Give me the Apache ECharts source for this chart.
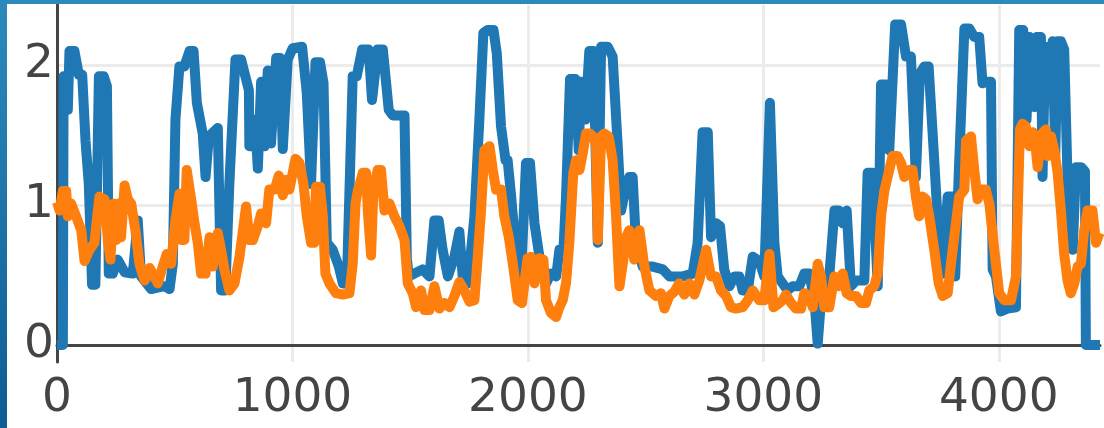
<!DOCTYPE html>
<html><head><meta charset="utf-8">
<script src="https://cdn.jsdelivr.net/npm/echarts@6/dist/echarts.min.js"></script>
<style>
html,body{margin:0;padding:0;width:1104px;height:428px;overflow:hidden;background:linear-gradient(to bottom,#2c8aba,#0d5c94);}
#c{position:absolute;left:7px;top:4px;width:1097px;height:424px;background:#fff;}
</style></head><body><div id="c"></div>
<script>
const xTicks = [0, 1000, 2000, 3000, 4000];
const yTicks = [0, 1, 2];

const blueX = [0,25,28,46,53,74,93,107,121,135,149,163,178,198,212,220,237,258,287,322,343,357,400,456,478,492,503,520,541,563,580,594,619,631,645,683,697,715,732,758,782,815,817,834,841,853,867,881,895,909,931,948,959,980,1001,1041,1061,1079,1098,1117,1132,1146,1171,1197,1214,1231,1256,1273,1296,1324,1338,1362,1384,1409,1426,1476,1486,1494,1518,1553,1582,1603,1621,1638,1660,1688,1709,1723,1745,1773,1794,1811,1829,1854,1868,1886,1905,1914,1929,1950,1971,1992,2009,2028,2049,2077,2098,2120,2134,2151,2162,2179,2202,2216,2226,2244,2261,2278,2297,2311,2339,2360,2381,2396,2414,2431,2445,2459,2488,2530,2573,2601,2658,2700,2721,2742,2764,2778,2799,2816,2834,2856,2877,2898,2912,2934,2955,2983,3004,3028,3047,3061,3082,3103,3125,3153,3174,3195,3217,3231,3245,3259,3280,3302,3320,3337,3354,3372,3394,3429,3443,3464,3486,3500,3521,3535,3560,3585,3606,3627,3648,3665,3684,3702,3726,3747,3762,3783,3804,3815,3829,3854,3875,3896,3917,3931,3948,3967,3974,3988,4009,4037,4073,4087,4104,4118,4130,4151,4161,4179,4186,4197,4214,4229,4240,4250,4264,4278,4292,4314,4328,4350,4366,4370,4430];
const blueY = [0,0,1.92,1.68,2.10,2.10,1.93,1.93,1.46,1.15,0.43,0.43,1.92,1.92,1.85,0.51,0.51,0.61,0.52,0.51,0.89,0.49,0.40,0.42,0.40,0.58,1.61,1.99,1.99,2.10,2.10,1.73,1.51,1.20,1.49,1.55,0.39,0.39,1.15,2.04,2.04,1.82,1.42,1.42,1.61,1.26,1.88,1.42,1.96,1.44,2.05,2.05,1.40,2.04,2.12,2.13,1.80,1.15,2.02,2.02,1.87,0.73,0.68,0.56,0.44,0.44,1.92,1.92,2.11,2.11,1.75,2.11,2.11,1.68,1.64,1.64,0.62,0.49,0.51,0.54,0.49,0.89,0.89,0.68,0.49,0.63,0.81,0.49,0.44,0.92,1.61,2.23,2.25,2.25,2.08,1.56,1.32,1.32,1.06,0.65,0.49,1.30,1.30,0.87,0.63,0.44,0.51,0.49,0.68,0.68,1.06,1.90,1.90,1.39,1.88,1.61,2.10,2.10,0.73,2.13,2.13,2.06,1.44,0.96,1.11,1.20,1.20,0.73,0.56,0.56,0.54,0.49,0.49,0.51,0.73,1.52,1.52,0.77,0.87,0.85,0.54,0.42,0.49,0.49,0.39,0.39,0.63,0.60,0.49,1.73,0.73,0.49,0.44,0.39,0.42,0.42,0.51,0.51,0.32,0.01,0.32,0.46,0.49,0.96,0.96,0.87,0.96,0.42,0.46,0.46,1.23,1.23,0.42,1.86,1.86,1.39,2.29,2.29,2.06,2.06,1.20,1.94,1.99,1.99,1.32,0.70,0.51,1.06,1.06,0.49,1.18,2.26,2.26,2.20,2.20,1.87,1.88,1.88,0.54,0.49,0.24,0.26,0.27,2.25,2.25,1.61,2.20,1.70,2.20,2.20,1.20,2.13,1.77,2.17,1.35,2.17,2.17,2.11,1.20,0.68,1.27,1.27,1.24,0,0];

const orangeX = [0,11,25,39,46,60,81,103,117,138,159,180,202,216,227,240,251,262,272,287,301,315,333,350,372,393,414,428,449,466,485,503,520,527,541,551,570,584,598,612,631,648,662,683,697,711,732,754,775,803,817,832,853,867,888,902,924,942,959,973,987,1013,1030,1047,1061,1079,1093,1100,1117,1129,1140,1157,1185,1214,1242,1256,1268,1277,1299,1313,1320,1334,1344,1362,1376,1391,1412,1433,1454,1476,1490,1511,1525,1546,1561,1582,1603,1624,1645,1667,1688,1709,1730,1752,1773,1787,1801,1815,1837,1851,1865,1886,1900,1919,1936,1957,1975,1985,1999,2013,2028,2049,2066,2077,2098,2120,2134,2148,2162,2176,2193,2205,2219,2233,2247,2264,2275,2289,2297,2311,2325,2343,2360,2374,2389,2403,2417,2431,2452,2474,2495,2516,2544,2565,2580,2601,2622,2643,2664,2686,2707,2728,2757,2778,2799,2820,2842,2863,2884,2912,2934,2955,2983,3004,3026,3043,3061,3082,3096,3118,3139,3160,3174,3195,3210,3231,3245,3259,3280,3302,3320,3337,3354,3372,3394,3415,3436,3450,3471,3486,3500,3514,3532,3549,3570,3585,3599,3617,3634,3648,3662,3677,3691,3705,3726,3745,3762,3783,3797,3818,3832,3854,3861,3882,3896,3910,3924,3945,3960,3981,4002,4023,4052,4073,4090,4101,4115,4130,4144,4158,4165,4183,4200,4207,4222,4236,4250,4264,4278,4292,4306,4321,4335,4349,4363,4377,4398,4413,4428];
const orangeY = [1.02,0.96,1.10,1.10,0.92,1.01,0.92,0.82,0.60,0.68,0.73,1.06,1.04,0.75,0.61,1.01,0.75,1.01,0.77,1.14,1.04,1.01,0.82,0.58,0.46,0.55,0.49,0.44,0.56,0.65,0.58,0.89,1.08,0.75,0.75,1.25,1.04,0.87,0.73,0.51,0.51,0.77,0.56,0.80,0.68,0.54,0.39,0.44,0.63,0.99,0.75,0.75,0.85,0.94,0.87,1.11,1.11,1.21,1.07,1.18,1.11,1.33,1.30,1.15,0.92,0.73,0.73,1.13,1.13,0.92,0.51,0.44,0.37,0.36,0.37,0.58,1.01,1.10,1.23,1.23,0.96,0.64,1.11,1.25,1.25,0.96,1.01,0.92,0.85,0.75,0.44,0.37,0.27,0.39,0.25,0.25,0.42,0.26,0.30,0.27,0.35,0.45,0.39,0.31,0.32,0.63,0.96,1.39,1.42,1.25,1.11,1.11,0.92,0.77,0.58,0.32,0.30,0.44,0.62,0.63,0.44,0.62,0.61,0.32,0.23,0.20,0.27,0.32,0.44,0.73,1.23,1.32,1.25,1.37,1.51,1.51,1.49,1.44,0.75,1.49,1.51,1.49,1.32,0.94,0.42,0.58,0.77,0.82,0.61,0.82,0.56,0.39,0.35,0.37,0.26,0.35,0.38,0.44,0.36,0.44,0.36,0.46,0.68,0.49,0.49,0.39,0.35,0.27,0.26,0.27,0.32,0.39,0.32,0.32,0.65,0.27,0.29,0.32,0.36,0.30,0.26,0.26,0.37,0.35,0.27,0.58,0.49,0.27,0.27,0.49,0.42,0.51,0.37,0.35,0.35,0.30,0.30,0.39,0.42,0.51,0.92,1.10,1.23,1.35,1.35,1.30,1.20,1.25,1.25,1.06,0.92,1.06,1.04,0.92,0.68,0.44,0.35,0.37,0.58,0.87,1.06,1.11,1.46,1.49,1.25,1.04,1.11,1.11,1.01,0.68,0.37,0.32,0.32,0.49,1.54,1.58,1.56,1.42,1.52,1.39,1.27,1.51,1.54,1.35,1.49,1.39,1.23,0.96,0.65,0.46,0.37,0.44,0.56,0.58,0.82,0.96,0.96,0.73,0.80];

const pair = (xs, ys) => xs.map((x, i) => [x, ys[i]]);
const font = { fontSize: 47, color: '#444', fontFamily: 'DejaVu Sans' };

const chart = echarts.init(document.getElementById('c'), null, { renderer: 'canvas' });
chart.setOption({
  animation: false,
  backgroundColor: '#fff',
  grid: { left: 50, right: 4, top: 1, bottom: 66, containLabel: false, outerBoundsMode: 'none' },
  xAxis: {
    type: 'value', min: 0, max: 4430,
    axisLine: { show: true, onZero: true, lineStyle: { color: '#444', width: 3 } },
    axisTick: { show: false, customValues: xTicks },
    axisLabel: Object.assign({ customValues: xTicks, margin: 13, formatter: v => String(v) }, font),
    splitLine: { show: true, lineStyle: { color: '#ebebeb', width: 3 } }
  },
  yAxis: {
    type: 'value', min: -0.1214, max: 2.4286,
    axisLine: { show: true, lineStyle: { color: '#444', width: 3 } },
    axisTick: { show: false, customValues: yTicks },
    axisLabel: Object.assign({ customValues: yTicks, margin: 3, formatter: v => String(v) }, font),
    splitLine: { show: true, lineStyle: { color: '#ebebeb', width: 3 } }
  },
  series: [
    { type: 'line', data: pair(blueX, blueY), showSymbol: false, symbol: 'none',
      lineStyle: { color: '#1f77b4', width: 10, join: 'round' }, z: 3 },
    { type: 'line', data: pair(orangeX, orangeY), showSymbol: false, symbol: 'none',
      lineStyle: { color: '#ff7f0e', width: 10, join: 'round' }, z: 4 }
  ]
});
</script></body></html>
